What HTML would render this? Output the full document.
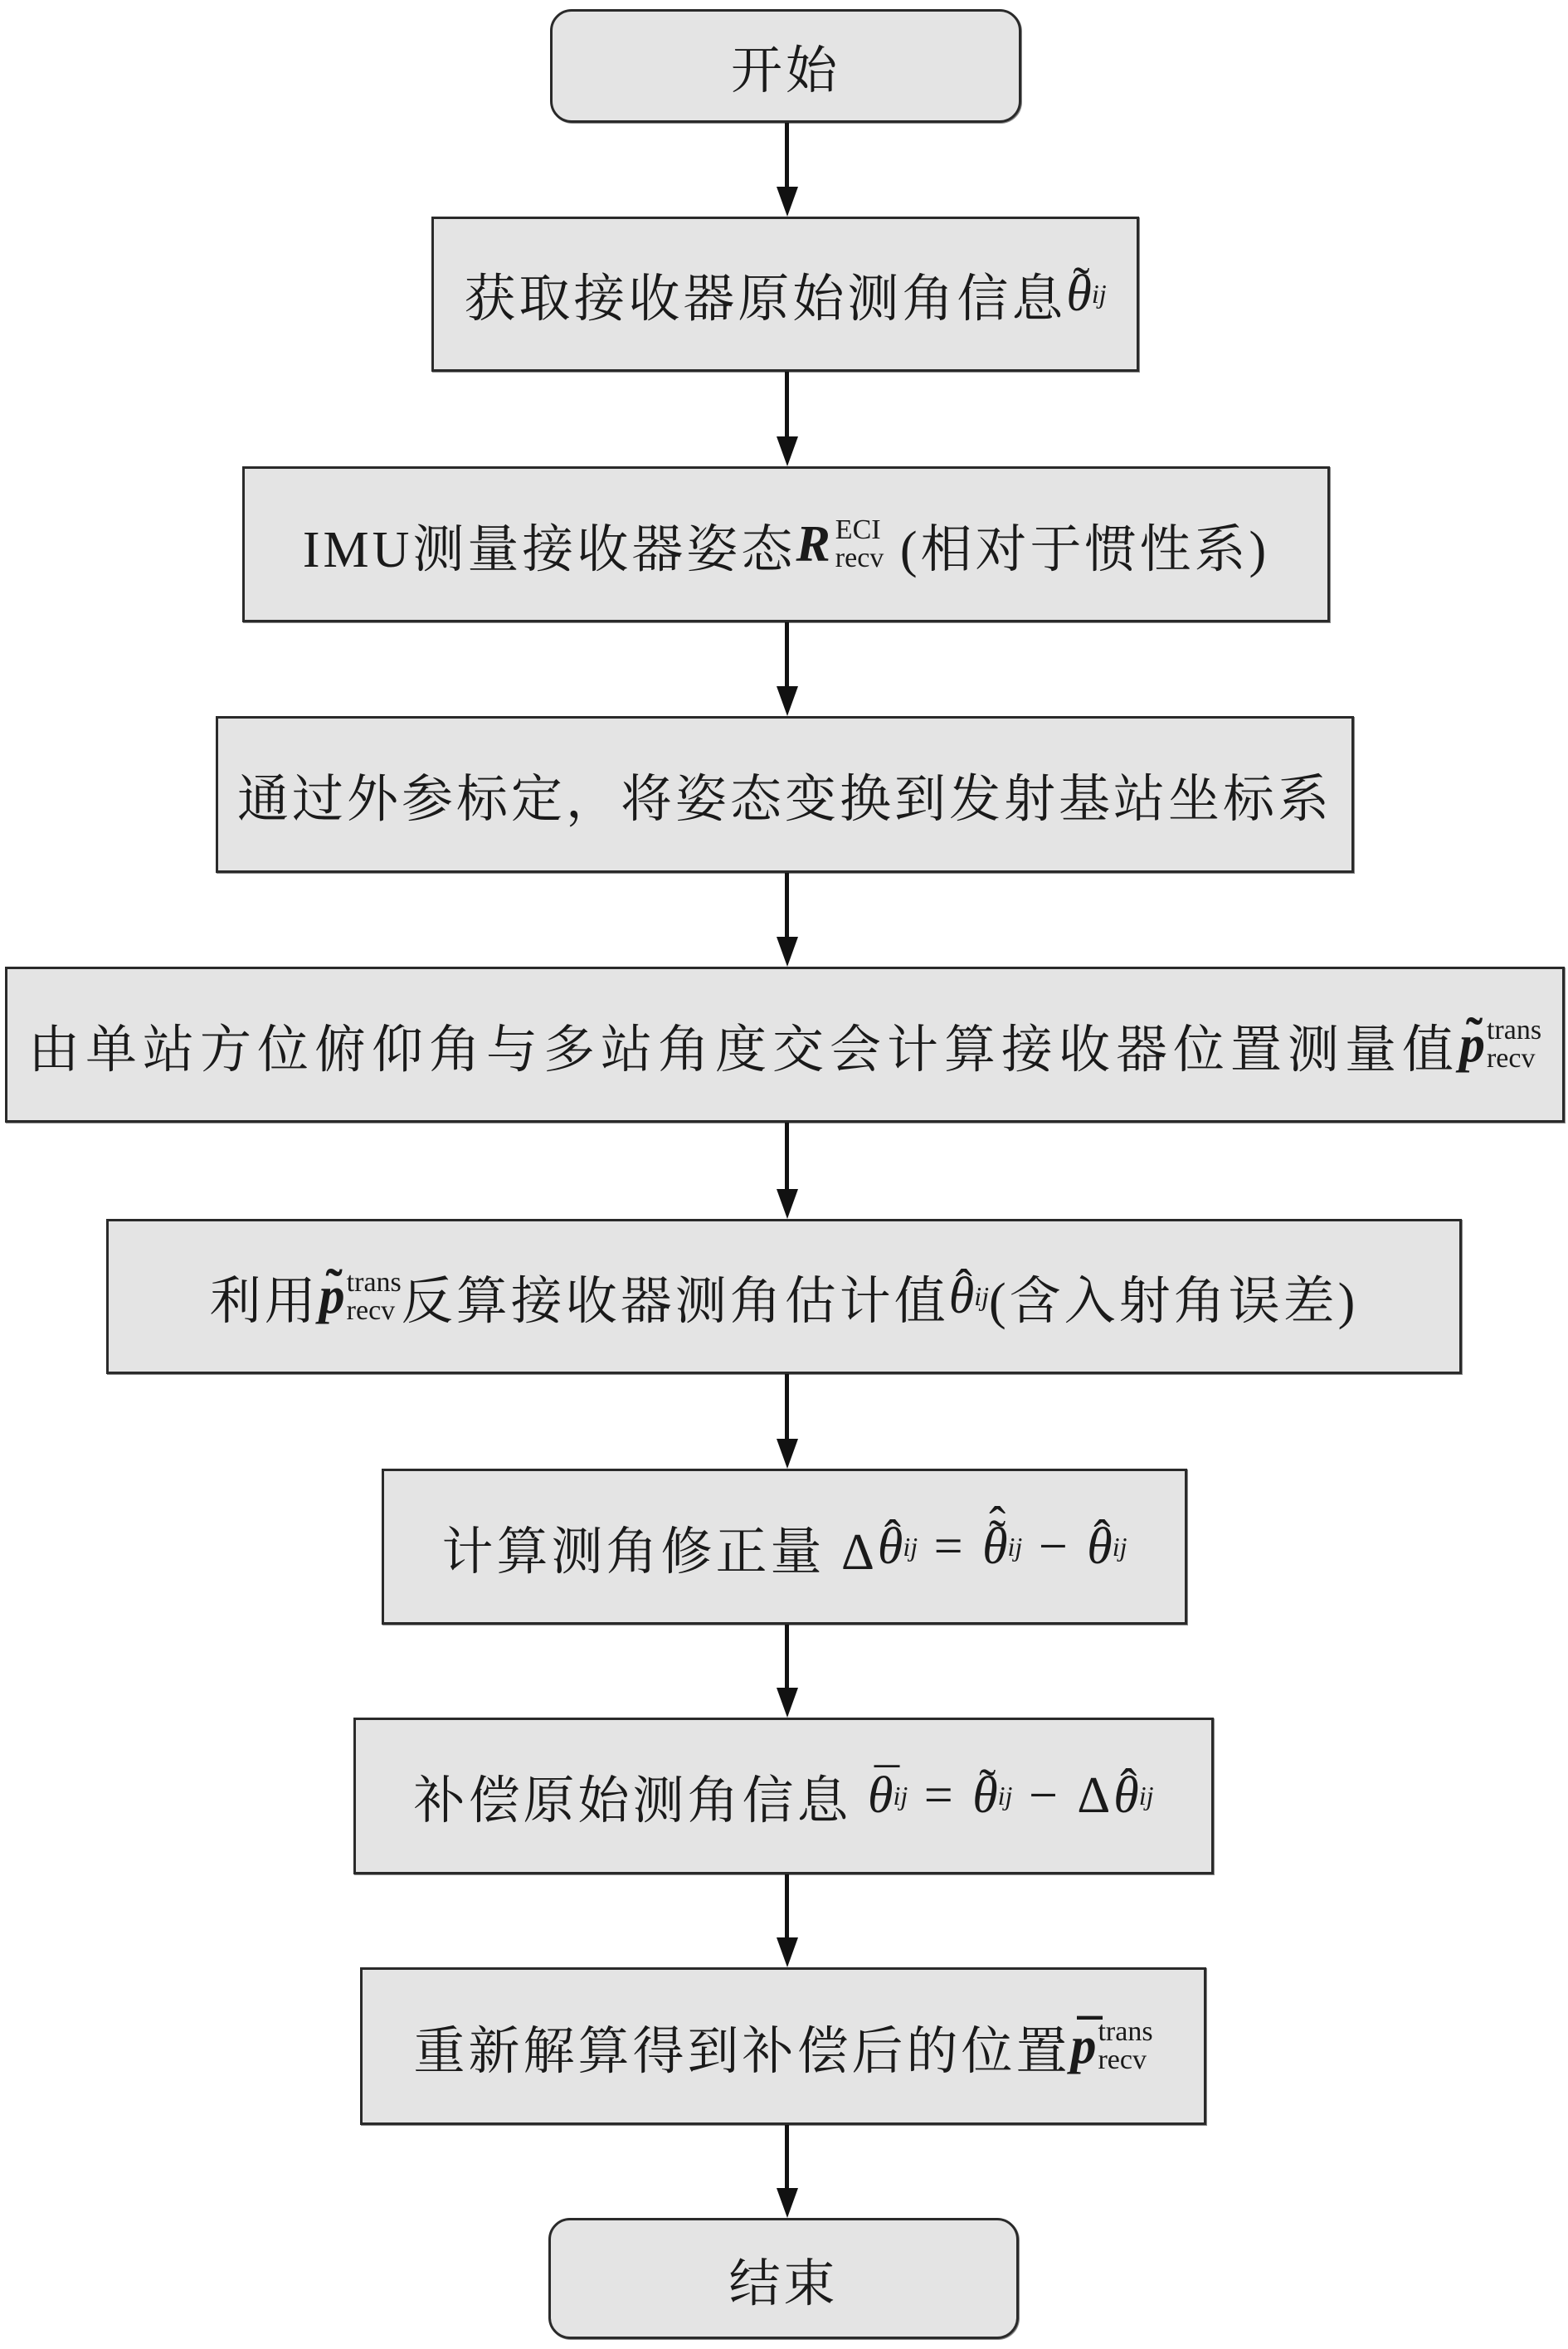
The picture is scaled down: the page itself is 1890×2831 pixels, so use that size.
<!DOCTYPE html>
<html><head><meta charset="utf-8"><style>
html,body{margin:0;padding:0;background:#fff;}
body{width:1890px;height:2831px;position:relative;overflow:hidden;font-family:"Liberation Serif","Noto Serif CJK SC","Noto Sans CJK SC",serif;color:#1a1a1a;}
.b{position:absolute;box-sizing:border-box;background:#e4e4e4;border:3px solid #2a2a2a;display:flex;align-items:center;justify-content:center;font-size:62px;letter-spacing:4px;white-space:nowrap;box-shadow:1px 1px 0 #888;}
.r{border-radius:26px;}
.i{font-style:italic;}
.bi{font-style:italic;font-weight:bold;}
.ss{display:inline-flex;flex-direction:column;font-size:34px;line-height:34px;letter-spacing:0;vertical-align:middle;margin-left:2px;}
sub{font-size:32px;font-style:italic;letter-spacing:0;vertical-align:-24px;}
.a{position:relative;display:inline-block;font-style:italic;letter-spacing:0;}
.a .t{position:absolute;left:8px;top:-10px;font-style:normal;font-size:60px;}
.a .t2{position:absolute;left:8px;top:-26px;font-style:normal;font-size:60px;}
.ln{position:absolute;left:946px;width:5px;background:#111;}
.ah{position:absolute;left:936px;width:0;height:0;border-left:13px solid transparent;border-right:13px solid transparent;border-top:36px solid #111;}
</style></head><body>
<div class="b r" style="left:663px;top:11px;width:568px;height:137px;">开始</div>
<div class="b" style="left:520px;top:261px;width:853px;height:187px;">获取接收器原始测角信息<span class="a">θ<span class="t">˜</span></span><sub>ij</sub></div>
<div class="b" style="left:292px;top:562px;width:1311px;height:188px;">IMU测量接收器姿态<span class="bi">R</span><span class="ss"><span>ECI</span><span>recv</span></span>&nbsp;(相对于惯性系)</div>
<div class="b" style="left:260px;top:863px;width:1372px;height:189px;">通过外参标定，将姿态变换到发射基站坐标系</div>
<div class="b" style="left:6px;top:1165px;width:1880px;height:188px;letter-spacing:7px;">由单站方位俯仰角与多站角度交会计算接收器位置测量值<span class="a" style="font-weight:bold">p<span class="t">˜</span></span><span class="ss"><span>trans</span><span>recv</span></span></div>
<div class="b" style="left:128px;top:1469px;width:1634px;height:187px;">利用<span class="a" style="font-weight:bold">p<span class="t">˜</span></span><span class="ss"><span>trans</span><span>recv</span></span>反算接收器测角估计值<span class="a">θ<span class="t">ˆ</span></span><sub>ij</sub>(含入射角误差)</div>
<div class="b" style="left:460px;top:1770px;width:971px;height:188px;">计算测角修正量&nbsp;Δ<span class="a">θ<span class="t">ˆ</span></span><sub>ij</sub>&nbsp;=&nbsp;<span class="a">θ<span class="t">˜</span><span class="t2">ˆ</span></span><sub>ij</sub>&nbsp;−&nbsp;<span class="a">θ<span class="t">ˆ</span></span><sub>ij</sub></div>
<div class="b" style="left:426px;top:2070px;width:1037px;height:189px;">补偿原始测角信息&nbsp;<span class="a">θ<span class="t">¯</span></span><sub>ij</sub>&nbsp;=&nbsp;<span class="a">θ<span class="t">˜</span></span><sub>ij</sub>&nbsp;−&nbsp;Δ<span class="a">θ<span class="t">ˆ</span></span><sub>ij</sub></div>
<div class="b" style="left:434px;top:2371px;width:1020px;height:190px;">重新解算得到补偿后的位置<span class="a" style="font-weight:bold">p<span class="t">¯</span></span><span class="ss"><span>trans</span><span>recv</span></span></div>
<div class="b r" style="left:661px;top:2673px;width:567px;height:146px;">结束</div>

<div class="ln" style="top:148px;height:80px;"></div><div class="ah" style="top:225px;"></div>
<div class="ln" style="top:448px;height:80px;"></div><div class="ah" style="top:526px;"></div>
<div class="ln" style="top:750px;height:80px;"></div><div class="ah" style="top:827px;"></div>
<div class="ln" style="top:1052px;height:80px;"></div><div class="ah" style="top:1129px;"></div>
<div class="ln" style="top:1353px;height:82px;"></div><div class="ah" style="top:1433px;"></div>
<div class="ln" style="top:1656px;height:80px;"></div><div class="ah" style="top:1734px;"></div>
<div class="ln" style="top:1958px;height:80px;"></div><div class="ah" style="top:2034px;"></div>
<div class="ln" style="top:2259px;height:80px;"></div><div class="ah" style="top:2335px;"></div>
<div class="ln" style="top:2561px;height:80px;"></div><div class="ah" style="top:2637px;"></div>
</body></html>
